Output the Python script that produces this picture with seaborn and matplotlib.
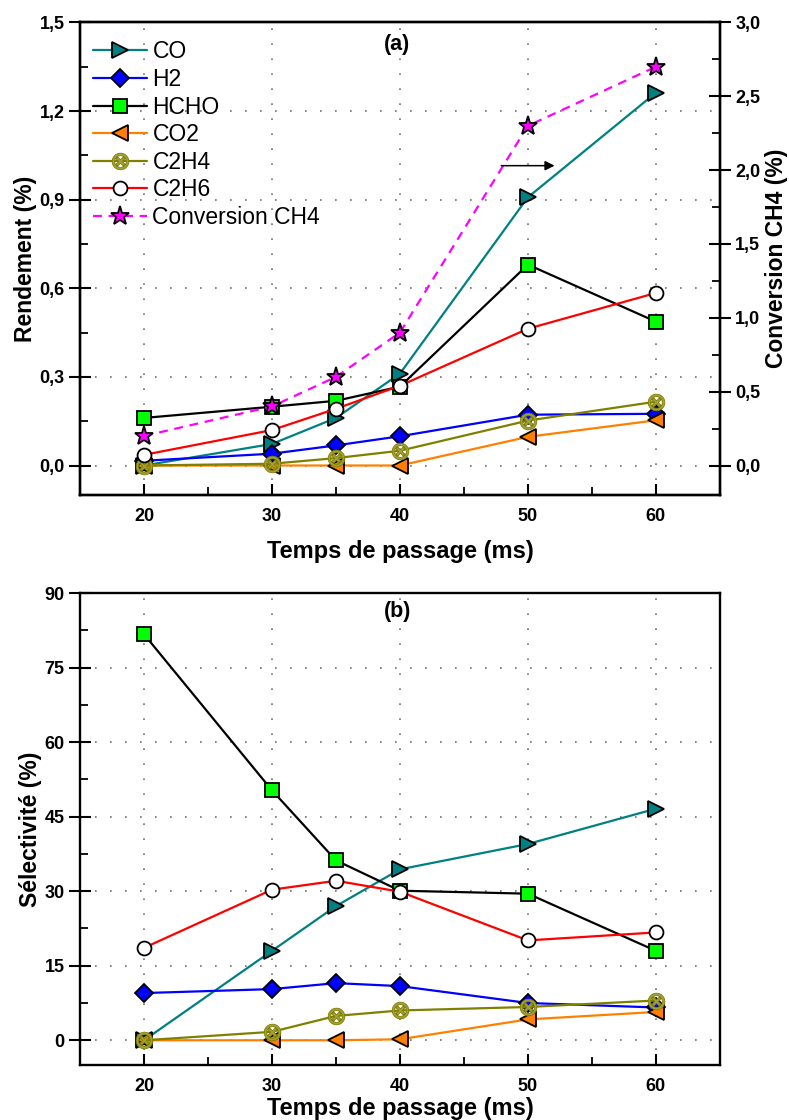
import numpy as np
import matplotlib
matplotlib.use("Agg")
import matplotlib.pyplot as plt
from matplotlib.ticker import MultipleLocator, FuncFormatter
import seaborn as sns

# temps de passage (ms)
temps = [20, 30, 35, 40, 50, 60]

# (a) rendement (%)
rdt_co = [0.0, 0.073, 0.161, 0.311, 0.908, 1.262]
rdt_h2 = [0.016, 0.040, 0.068, 0.099, 0.172, 0.175]
rdt_hcho = [0.161, 0.199, 0.219, 0.267, 0.680, 0.487]
rdt_co2 = [0.0, 0.0, 0.0, 0.0, 0.097, 0.153]
rdt_c2h4 = [0.0, 0.006, 0.025, 0.050, 0.152, 0.216]
rdt_c2h6 = [0.036, 0.120, 0.192, 0.270, 0.463, 0.584]
conv_ch4 = [0.20, 0.40, 0.60, 0.90, 2.30, 2.70]

# (b) selectivite (%)
sel_co = [0.0, 18.0, 27.0, 34.4, 39.5, 46.6]
sel_h2 = [9.5, 10.3, 11.5, 10.9, 7.5, 6.6]
sel_hcho = [81.7, 50.3, 36.2, 30.1, 29.5, 18.0]
sel_co2 = [0.0, 0.0, 0.0, 0.2, 4.2, 5.7]
sel_c2h4 = [0.0, 1.7, 4.9, 6.0, 6.7, 8.0]
sel_c2h6 = [18.6, 30.3, 32.1, 29.9, 20.1, 21.7]

labels = ["CO", "H2", "HCHO", "CO2", "C2H4", "C2H6"]

sns.set_style("ticks")
plt.rcParams["font.family"] = ["Liberation Sans", "DejaVu Sans"]
plt.rcParams["font.weight"] = "bold"
plt.rcParams["axes.labelweight"] = "bold"
for k in ["text.color", "axes.labelcolor", "xtick.color", "ytick.color", "axes.edgecolor"]:
    plt.rcParams[k] = "black"

# line colour, marker, marker face, marker edge
styles = [
    ("#008080", ">", "#008080", "k"),
    ("#0000FF", "D", "#0000FF", "k"),
    ("#000000", "s", "#00FF00", "k"),
    ("#FF8000", "<", "#FF8000", "k"),
    ("#808000", r"$\otimes$", "#A0A040", "#808000"),
    ("#FF0000", "o", "white", "k"),
]
msizes = [11, 9, 10, 11, 12, 10]

fig = plt.figure(figsize=(7.89, 11.2), dpi=100)
ax1 = fig.add_axes([0.1014, 0.558, 0.811, 0.422])
ax3 = fig.add_axes([0.1014, 0.049, 0.811, 0.4215])


def draw(ax, series):
    for vals, lab, (lc, mk, mfc, mec), ms in zip(series, labels, styles, msizes):
        sns.lineplot(x=temps, y=vals, ax=ax, color=lc, marker=mk, markersize=ms,
                     markerfacecolor=mfc, markeredgecolor=mec,
                     markeredgewidth=1.3 if mk != r"$\otimes$" else 0.6,
                     linewidth=1.6, label=lab, legend=False)


def deco(ax, ymaj, ymin_, fmt):
    ax.set_xlim(15, 65)
    ax.xaxis.set_major_locator(MultipleLocator(10))
    ax.xaxis.set_minor_locator(MultipleLocator(5))
    ax.yaxis.set_major_locator(MultipleLocator(ymaj))
    ax.yaxis.set_minor_locator(MultipleLocator(ymin_))
    ax.yaxis.set_major_formatter(FuncFormatter(fmt))
    ax.tick_params(axis="x", which="major", direction="in", length=8, width=1.5,
                   labelsize=13, pad=9, top=False)
    ax.tick_params(axis="y", which="major", direction="inout", length=16, width=1.5,
                   labelsize=13, pad=3, right=False)
    ax.tick_params(which="minor", direction="in", length=6, width=1.3,
                   top=False, right=False)
    ax.grid(True, which="major", color="#707070", linestyle=(0, (1, 8)), lw=1.2)
    for s in ax.spines.values():
        s.set_visible(True)
        s.set_linewidth(1.7)
        s.set_color("k")
    for t in ax.get_xticklabels() + ax.get_yticklabels():
        t.set_fontweight("bold")


comma1 = lambda v, p: f"{v:.1f}".replace(".", ",")

# ---------- (a) ----------
draw(ax1, [rdt_co, rdt_h2, rdt_hcho, rdt_co2, rdt_c2h4, rdt_c2h6])
ax1.set_ylim(-0.1, 1.5)
deco(ax1, 0.3, 0.15, comma1)
ax1.set_xlabel("Temps de passage (ms)", fontsize=17, labelpad=11)
ax1.set_ylabel("Rendement (%)", fontsize=16.5, labelpad=2)

ax2 = ax1.twinx()
sns.lineplot(x=temps, y=conv_ch4, ax=ax2, color="#FF00FF", marker="*", markersize=14,
             markerfacecolor="#FF00FF", markeredgecolor="k", markeredgewidth=1.3,
             linewidth=1.6, linestyle=(0, (4, 3)), label="Conversion CH4", legend=False)
ax2.set_ylim(-0.2, 3.0)
ax2.yaxis.set_major_locator(MultipleLocator(0.5))
ax2.yaxis.set_minor_locator(MultipleLocator(0.25))
ax2.yaxis.set_major_formatter(FuncFormatter(comma1))
ax2.tick_params(which="major", direction="inout", length=16, width=1.5, labelsize=13, pad=3)
ax2.tick_params(which="minor", direction="in", length=6, width=1.3)
for t in ax2.get_yticklabels():
    t.set_fontweight("bold")
for s in ax2.spines.values():
    s.set_linewidth(1.7)
ax2.set_ylabel("Conversion CH4 (%)", fontsize=16.5, labelpad=3)

ax2.annotate("", xy=(52.3, 2.03), xytext=(47.7, 2.03),
             arrowprops=dict(arrowstyle="-|>", color="k", lw=1.1, mutation_scale=14))
ax1.text(39.8, 1.425, "(a)", fontsize=15.5, fontweight="bold", ha="center", va="center")

h1, l1 = ax1.get_legend_handles_labels()
h2, l2 = ax2.get_legend_handles_labels()
ax1.legend(h1 + h2, l1 + l2, loc="upper left", bbox_to_anchor=(0.02, 0.962),
           frameon=False, prop={"size": 16.5, "weight": "normal"}, handlelength=2.35,
           handletextpad=0.25, labelspacing=0.2, borderpad=0, borderaxespad=0)

# ---------- (b) ----------
draw(ax3, [sel_co, sel_h2, sel_hcho, sel_co2, sel_c2h4, sel_c2h6])
ax3.set_ylim(-5, 90)
deco(ax3, 15, 7.5, lambda v, p: f"{v:.0f}")
ax3.set_xlabel("Temps de passage (ms)", fontsize=17, labelpad=2)
ax3.set_ylabel("Sélectivité (%)", fontsize=16.5, labelpad=2)
ax3.text(39.8, 86.3, "(b)", fontsize=15.5, fontweight="bold", ha="center", va="center")

fig.savefig("out.png", dpi=100)
